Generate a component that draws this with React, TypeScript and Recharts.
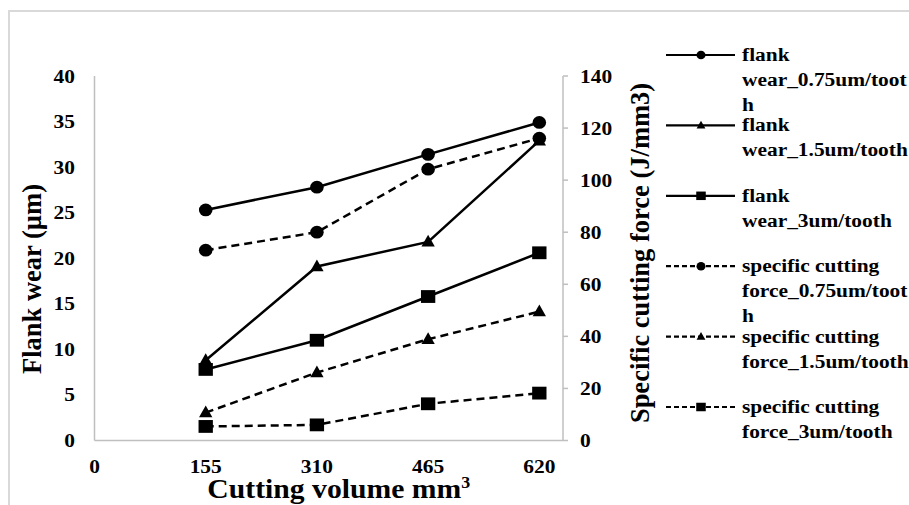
import React from 'react';
import { LineChart, Line, XAxis, YAxis, Legend, Label } from 'recharts';

// ---- data ----
const volumes = [155, 310, 465, 620];
const xTicks = [0, 155, 310, 465, 620];
const leftTicks = [0, 5, 10, 15, 20, 25, 30, 35, 40];
const rightTicks = [0, 20, 40, 60, 80, 100, 120, 140];

const flankWear075 = [25.3, 27.8, 31.4, 34.9];
const flankWear15 = [8.8, 19.1, 21.8, 32.9];
const flankWear3 = [7.8, 11.0, 15.8, 20.6];
const force075 = [73.1, 80.0, 104.2, 116.1];
const force15 = [10.7, 26.1, 38.9, 49.5];
const force3 = [5.4, 6.0, 14.1, 18.2];

const seriesNames = [
  'flank wear_0.75um/tooth',
  'flank wear_1.5um/tooth',
  'flank wear_3um/tooth',
  'specific cutting force_0.75um/tooth',
  'specific cutting force_1.5um/tooth',
  'specific cutting force_3um/tooth',
];
const legendLines = [
  ['flank', 'wear_0.75um/toot', 'h'],
  ['flank', 'wear_1.5um/tooth'],
  ['flank', 'wear_3um/tooth'],
  ['specific cutting', 'force_0.75um/toot', 'h'],
  ['specific cutting', 'force_1.5um/tooth'],
  ['specific cutting', 'force_3um/tooth'],
];

const xTitle = 'Cutting volume mm';
const leftTitle = 'Flank wear (µm)';
const rightTitle = 'Specific cutting force (J/mm3)';

const data = volumes.map((v, i) => ({
  volume: v,
  fw075: flankWear075[i],
  fw15: flankWear15[i],
  fw3: flankWear3[i],
  sc075: force075[i],
  sc15: force15[i],
  sc3: force3[i],
}));

type Shape = 'circle' | 'triangle' | 'square';
const series: { key: string; axis: string; dashed: boolean; shape: Shape }[] = [
  { key: 'fw075', axis: 'left', dashed: false, shape: 'circle' },
  { key: 'fw15', axis: 'left', dashed: false, shape: 'triangle' },
  { key: 'fw3', axis: 'left', dashed: false, shape: 'square' },
  { key: 'sc075', axis: 'right', dashed: true, shape: 'circle' },
  { key: 'sc15', axis: 'right', dashed: true, shape: 'triangle' },
  { key: 'sc3', axis: 'right', dashed: true, shape: 'square' },
];

// ---- styling ----
const FONT = '"Liberation Serif", Tinos, "Times New Roman", Times, "DejaVu Serif", serif';
const AXIS = '#bfbfbf';
const SX = 1.19;

const txt = (size: number): React.CSSProperties => ({
  fontFamily: FONT,
  fontWeight: 700,
  fontSize: size,
  fill: '#000',
});

function Marker({ cx, cy, shape, s }: { cx: number; cy: number; shape: Shape; s: number }) {
  if (cx == null || cy == null) return null;
  if (shape === 'circle') return <ellipse cx={cx} cy={cy} rx={s * 0.53} ry={s * 0.5} fill="#000" />;
  if (shape === 'square')
    return <rect x={cx - s * 0.56} y={cy - s * 0.5} width={s * 1.12} height={s} fill="#000" />;
  const h = s * 0.92;
  return (
    <polygon
      points={`${cx},${cy - h * 0.6} ${cx + s * 0.52},${cy + h * 0.4} ${cx - s * 0.52},${cy + h * 0.4}`}
      fill="#000"
    />
  );
}

const makeDot = (key: string, shape: Shape) => (p: any) => (
  <Marker key={`${key}-${p.index}`} cx={p.cx} cy={p.cy} shape={shape} s={12.8} />
);

const ScaledTick = (anchor: string, dx: number, dy: number) => (p: any) => {
  const { x, y, payload } = p;
  return (
    <text
      transform={`translate(${x + dx},${y + dy}) scale(${SX},1)`}
      textAnchor={anchor}
      style={txt(18)}
    >
      {payload.value}
    </text>
  );
};

const renderLegend = () => (
  <svg width={249} height={440} style={{ overflow: 'visible' }}>
    {series.map((s, i) => {
      const cy = 35 + i * 70.4;
      return (
        <g key={s.key}>
          <line
            x1={6}
            x2={75}
            y1={cy}
            y2={cy}
            stroke="#000"
            strokeWidth={2.2}
            strokeDasharray={s.dashed ? '5 3' : undefined}
          />
          <Marker cx={41} cy={cy} shape={s.shape} s={8.5} />
          {legendLines[i].map((t, j) => (
            <text key={j} transform={`translate(82,${cy + 6 + j * 25}) scale(${SX},1)`} style={txt(18)}>
              {t}
            </text>
          ))}
        </g>
      );
    })}
  </svg>
);

export default function App() {
  return (
    <div style={{ position: 'relative', width: 909, height: 505, overflow: 'hidden', background: '#fff' }}>
      <style>{'body{margin:0;overflow:hidden;}'}</style>
      <div
        style={{
          position: 'absolute',
          left: 8,
          top: 10,
          width: 1000,
          height: 1000,
          borderLeft: '2px solid #d9d9d9',
          borderTop: '2px solid #d9d9d9',
        }}
      />
      <div style={{ position: 'absolute', left: 0, top: 0 }}>
        <LineChart width={909} height={505} data={data} margin={{ top: 76, right: 276, bottom: 24.5, left: 4.5 }}>
          <XAxis
            dataKey="volume"
            type="number"
            domain={[0, 653]}
            ticks={xTicks}
            interval={0}
            height={40}
            axisLine={{ stroke: AXIS, strokeWidth: 1.5 }}
            tickLine={false}
            tickSize={0}
            tickMargin={0}
            tick={ScaledTick('middle', 0, 32)}
          >
            <Label
              content={(p: any) => {
                const vb = p.viewBox;
                return (
                  <text
                    transform={`translate(${vb.x + vb.width / 2 + 10},498) scale(1.12,1)`}
                    textAnchor="middle"
                    style={txt(26.5)}
                  >
                    {xTitle}
                    <tspan dy={-10} style={{ fontSize: 16 }}>
                      3
                    </tspan>
                  </text>
                );
              }}
            />
          </XAxis>
          <YAxis
            yAxisId="left"
            orientation="left"
            domain={[0, 40]}
            ticks={leftTicks}
            interval={0}
            width={90}
            axisLine={{ stroke: AXIS, strokeWidth: 1.5 }}
            tickLine={false}
            tickSize={0}
            tickMargin={19.5}
            tick={ScaledTick('end', 0, 6.5)}
          >
            <Label
              content={() => (
                <text transform="translate(41,279) rotate(-90)" textAnchor="middle" style={txt(26.5)}>
                  {leftTitle}
                </text>
              )}
            />
          </YAxis>
          <YAxis
            yAxisId="right"
            orientation="right"
            domain={[0, 140]}
            ticks={rightTicks}
            interval={0}
            width={70}
            axisLine={{ stroke: AXIS, strokeWidth: 1.5 }}
            tickLine={{ stroke: AXIS, strokeWidth: 1.5 }}
            tickSize={5}
            tickMargin={12}
            tick={ScaledTick('start', 0, 6.5)}
          >
            <Label
              content={() => (
                <text transform="translate(649,253) rotate(-90)" textAnchor="middle" style={txt(26.5)}>
                  {rightTitle}
                </text>
              )}
            />
          </YAxis>
          <Legend
            layout="horizontal"
            verticalAlign="middle"
            align="center"
            content={renderLegend}
            wrapperStyle={{ position: 'absolute', left: 660, top: 20, width: 249, height: 440 }}
          />
          {series.map((s, i) => (
            <Line
              key={s.key}
              name={seriesNames[i]}
              yAxisId={s.axis}
              dataKey={s.key}
              type="linear"
              stroke="#000"
              strokeWidth={2.5}
              strokeDasharray={s.dashed ? '8 5' : undefined}
              dot={makeDot(s.key, s.shape)}
              activeDot={false}
              isAnimationActive={false}
            />
          ))}
        </LineChart>
      </div>
    </div>
  );
}
